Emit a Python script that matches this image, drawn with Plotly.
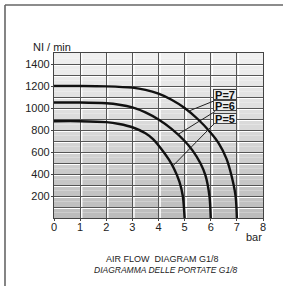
import plotly.graph_objects as go

# ---- data ----
p7_x = [0, 1, 2, 3, 3.5, 4, 4.5, 5, 5.5, 6, 6.3, 6.6, 6.8, 6.95, 7]
p7_y = [1200, 1200, 1197, 1185, 1165, 1130, 1075, 1000, 900, 775, 680, 540, 380, 200, 0]
p6_x = [0, 1, 2, 2.5, 3, 3.5, 4, 4.5, 5, 5.3, 5.6, 5.8, 5.95, 6]
p6_y = [1050, 1050, 1043, 1030, 1005, 960, 895, 810, 700, 615, 500, 385, 200, 0]
p5_x = [0, 1, 2, 2.5, 3, 3.5, 3.8, 4.1, 4.4, 4.6, 4.8, 4.93, 5]
p5_y = [880, 880, 872, 855, 825, 770, 715, 630, 530, 445, 330, 200, 0]

series_names = ["P=7", "P=6", "P=5"]
label_x = [6.55, 6.55, 6.55]
label_y = [1124, 1021, 907]
leader_from_x = [6.16, 6.16, 6.16]
leader_from_y = [1068, 968, 864]
leader_to_x = [5.17, 4.75, 4.55]
leader_to_y = [973, 760, 474]

x_ticks = [0, 1, 2, 3, 4, 5, 6, 7, 8]
y_ticks = [200, 400, 600, 800, 1000, 1200, 1400]
y_grid = list(range(100, 1500, 100))
x_grid = [1, 2, 3, 4, 5, 6, 7]

L, R, T, B = 54, 20, 53, 68
W, H = 283, 286
pw, ph = W - L - R, H - T - B

fig = go.Figure()

for xs, ys in [(p7_x, p7_y), (p6_x, p6_y), (p5_x, p5_y)]:
    fig.add_trace(go.Scatter(x=xs, y=ys, mode="lines",
                             line=dict(color="#111111", width=2.4, shape="spline", smoothing=0.8),
                             hoverinfo="skip", showlegend=False))

for i in range(3):
    fig.add_trace(go.Scatter(x=[leader_from_x[i], leader_to_x[i]],
                             y=[leader_from_y[i], leader_to_y[i]], mode="lines",
                             line=dict(color="#222222", width=1),
                             hoverinfo="skip", showlegend=False))

shapes = []
# background gradient bands
nb = 30
for k in range(nb):
    f = k / (nb - 1)
    top = (240, 240, 240)
    bot = (188, 188, 188)
    c = tuple(int(round(top[j] + (bot[j] - top[j]) * f)) for j in range(3))
    y1 = 1500 - k * 1500 / nb
    y0 = 1500 - (k + 1) * 1500 / nb
    shapes.append(dict(type="rect", xref="paper", yref="y", x0=0, x1=1, y0=y0, y1=y1,
                       fillcolor="rgb(%d,%d,%d)" % c, line=dict(width=0), layer="below"))
# white highlights next to grid lines
for v in y_grid:
    shapes.append(dict(type="line", xref="paper", yref="y", ysizemode="pixel", yanchor=v,
                       x0=0, x1=1, y0=-1.5, y1=-1.5,
                       line=dict(color="white", width=1.2), layer="between"))
for v in x_grid:
    shapes.append(dict(type="line", yref="paper", xref="x", xsizemode="pixel", xanchor=v,
                       y0=0, y1=1, x0=1.6, x1=1.6,
                       line=dict(color="white", width=1.4), layer="between"))
# page frame
fx0 = (5 - L) / pw
fy0 = (H - B - 5) / ph
shapes.append(dict(type="line", xref="paper", yref="paper", x0=fx0, x1=(W - L) / pw, y0=fy0, y1=fy0,
                   line=dict(color="#666666", width=1.6)))
shapes.append(dict(type="line", xref="paper", yref="paper", x0=fx0, x1=fx0, y0=fy0, y1=(H - B - H) / ph,
                   line=dict(color="#666666", width=1.6)))

annotations = []
for i in range(3):
    annotations.append(dict(x=label_x[i], y=label_y[i], xref="x", yref="y", text="<b>%s</b>" % series_names[i],
                            showarrow=False, font=dict(family="Liberation Sans, Arial", size=11, color="#111"),
                            bgcolor="#ececec", bordercolor="#444", borderwidth=1, borderpad=0,
                            width=22, height=9))
annotations.append(dict(x=(31 - L) / pw, y=(H - B - 46.5) / ph, xref="paper", yref="paper",
                        text="NI / min", showarrow=False, xanchor="left", yanchor="middle",
                        font=dict(family="Liberation Sans, Arial", size=11, color="#222")))
annotations.append(dict(x=(263.5 - L) / pw, y=(H - B - 237) / ph, xref="paper", yref="paper",
                        text="bar", showarrow=False, xanchor="right", yanchor="middle",
                        font=dict(family="Liberation Sans, Arial", size=11, color="#222")))
cond = "Liberation Sans Narrow, Arial Narrow, Liberation Sans, sans-serif"
annotations.append(dict(x=(162 - L) / pw, y=(H - B - 258.5) / ph, xref="paper", yref="paper",
                        text="AIR FLOW  DIAGRAM G1/8", showarrow=False, xanchor="center", yanchor="middle",
                        font=dict(family=cond, size=9, color="#222")))
annotations.append(dict(x=(166 - L) / pw, y=(H - B - 269.5) / ph, xref="paper", yref="paper",
                        text="<i>DIAGRAMMA DELLE PORTATE G1/8</i>", showarrow=False, xanchor="center", yanchor="middle",
                        font=dict(family=cond, size=8.5, color="#222")))

fig.update_layout(
    width=W, height=H, margin=dict(l=L, r=R, t=T, b=B, pad=0),
    paper_bgcolor="white", plot_bgcolor="rgba(0,0,0,0)",
    shapes=shapes, annotations=annotations, showlegend=False,
    xaxis=dict(range=[0, 8], tickvals=x_ticks, ticktext=[str(v) for v in x_ticks],
               showgrid=True, gridcolor="#555555", gridwidth=1.2, zeroline=False,
               showline=True, linecolor="#444444", linewidth=1.2, mirror=True,
               ticks="outside", ticklen=2, tickcolor="#444", ticklabelstandoff=-3,
               tickfont=dict(family="Liberation Sans, Arial", size=11, color="#222")),
    yaxis=dict(range=[0, 1500], tickvals=y_ticks, ticktext=[str(v) for v in y_ticks],
               showgrid=True, gridcolor="#555555", gridwidth=1.2, zeroline=False,
               minor=dict(tickvals=y_grid, showgrid=True, gridcolor="#555555", gridwidth=1.2),
               showline=True, linecolor="#444444", linewidth=1.2, mirror=True,
               ticks="outside", ticklen=2, tickcolor="#444", ticklabelstandoff=-1,
               tickfont=dict(family="Liberation Sans, Arial", size=11, color="#222")),
)

fig.write_html("out.html", config={"displayModeBar": False},
               post_script="document.body.style.margin='0';")
